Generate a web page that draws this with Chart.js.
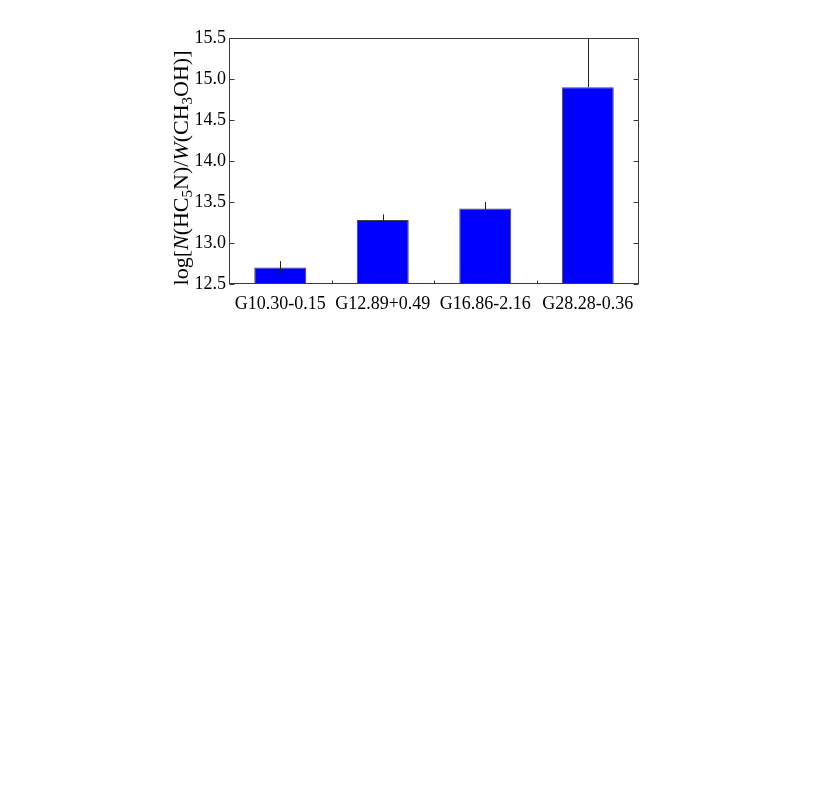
<!DOCTYPE html>
<html><head><meta charset="utf-8">
<script src="https://cdn.jsdelivr.net/npm/chart.js@4/dist/chart.umd.min.js"></script>
<style>html,body{margin:0;padding:0;background:#fff;}canvas{display:block;}</style>
</head><body>
<canvas id="c" width="830" height="798"></canvas>
<script>
const categories = ["G10.30-0.15", "G12.89+0.49", "G16.86-2.16", "G28.28-0.36"];
const values = [12.70, 13.28, 13.42, 14.90];
const errUpper = [0.08, 0.07, 0.08, 0.75];
const errLower = [0.08, 0.07, 0.09, 0.0];
const yTicks = [12.5, 13.0, 13.5, 14.0, 14.5, 15.0, 15.5];

const FONT = "'Liberation Serif', 'Times New Roman', serif";
const frameColor = '#3a3a3a';

const framePlugin = {
  id: 'frame',
  afterDatasetsDraw(chart) {
    const ctx = chart.ctx, a = chart.chartArea;
    const y = chart.scales.y, x = chart.scales.x;
    ctx.save();
    ctx.beginPath();
    ctx.rect(a.left, a.top, a.right - a.left, a.bottom - a.top);
    ctx.clip();
    ctx.strokeStyle = '#222';
    ctx.lineWidth = 1;
    values.forEach((v, i) => {
      const px = Math.round(x.getPixelForValue(i)) + 0.5;
      const y1 = y.getPixelForValue(v + errUpper[i]);
      const y2 = y.getPixelForValue(v - errLower[i]);
      ctx.beginPath(); ctx.moveTo(px, y1); ctx.lineTo(px, y2); ctx.stroke();
    });
    ctx.restore();
    ctx.save();
    ctx.strokeStyle = frameColor;
    ctx.lineWidth = 1;
    const L = Math.round(a.left) + 0.5, R = Math.round(a.right) - 0.5;
    const T = Math.round(a.top) + 0.5, B = Math.round(a.bottom) - 0.5;
    ctx.strokeRect(L, T, R - L, B - T);
    ctx.beginPath();
    yTicks.forEach(t => {
      const py = Math.round(y.getPixelForValue(t)) + 0.5;
      ctx.moveTo(L, py); ctx.lineTo(L + 5, py);
      ctx.moveTo(R, py); ctx.lineTo(R - 5, py);
    });
    for (let i = 0; i < categories.length - 1; i++) {
      const px = Math.round((x.getPixelForValue(i) + x.getPixelForValue(i + 1)) / 2) + 0.5;
      ctx.moveTo(px, B); ctx.lineTo(px, B - 3);
    }
    ctx.stroke();
    ctx.restore();
  },
  afterDraw(chart) {
    const ctx = chart.ctx;
    const size = 22;
    const parts = [
      ['log[', 'n'], ['N', 'i'], ['(HC', 'n'], ['5', 's'], ['N)/', 'n'], ['W', 'i'],
      ['(CH', 'n'], ['3', 's'], ['OH)]', 'n']
    ];
    const fontFor = k => k === 'i' ? `italic ${size}px ${FONT}` : k === 's' ? `${Math.round(size * 0.68)}px ${FONT}` : `${size}px ${FONT}`;
    ctx.save();
    let total = 0;
    parts.forEach(p => { ctx.font = fontFor(p[1]); total += ctx.measureText(p[0]).width; });
    const cx = 182, cy = 168;
    ctx.translate(cx, cy);
    ctx.rotate(-Math.PI / 2);
    ctx.fillStyle = '#000';
    ctx.textBaseline = 'middle';
    ctx.textAlign = 'left';
    let xx = -total / 2;
    parts.forEach(p => {
      ctx.font = fontFor(p[1]);
      const dy = p[1] === 's' ? 6 : 0;
      ctx.fillText(p[0], xx, dy);
      xx += ctx.measureText(p[0]).width;
    });
    ctx.restore();
  }
};

new Chart(document.getElementById('c'), {
  type: 'bar',
  data: {
    labels: categories,
    datasets: [{
      data: values,
      backgroundColor: '#0000ff',
      borderColor: '#444444',
      borderWidth: 1,
      borderSkipped: false,
      categoryPercentage: 1.0,
      barPercentage: 0.507
    }]
  },
  options: {
    responsive: false,
    animation: false,
    events: [],
    layout: { padding: { left: 0, right: 191, top: 38, bottom: 484 } },
    plugins: { legend: { display: false }, tooltip: { enabled: false } },
    scales: {
      x: {
        grid: { display: false, drawTicks: false },
        border: { display: false },
        ticks: { color: '#000', font: { family: FONT, size: 18 }, padding: 9, maxRotation: 0, autoSkip: false },
        afterFit(s) { s.height = 30; }
      },
      y: {
        min: 12.5, max: 15.5,
        grid: { display: false, drawTicks: false },
        border: { display: false },
        afterBuildTicks(s) { s.ticks = yTicks.map(v => ({ value: v })); },
        ticks: { color: '#000', font: { family: FONT, size: 18 }, padding: 3,
          callback: v => Number(v).toFixed(1) },
        afterFit(s) { s.width = 229; }
      }
    }
  },
  plugins: [framePlugin]
});
</script>
</body></html>
